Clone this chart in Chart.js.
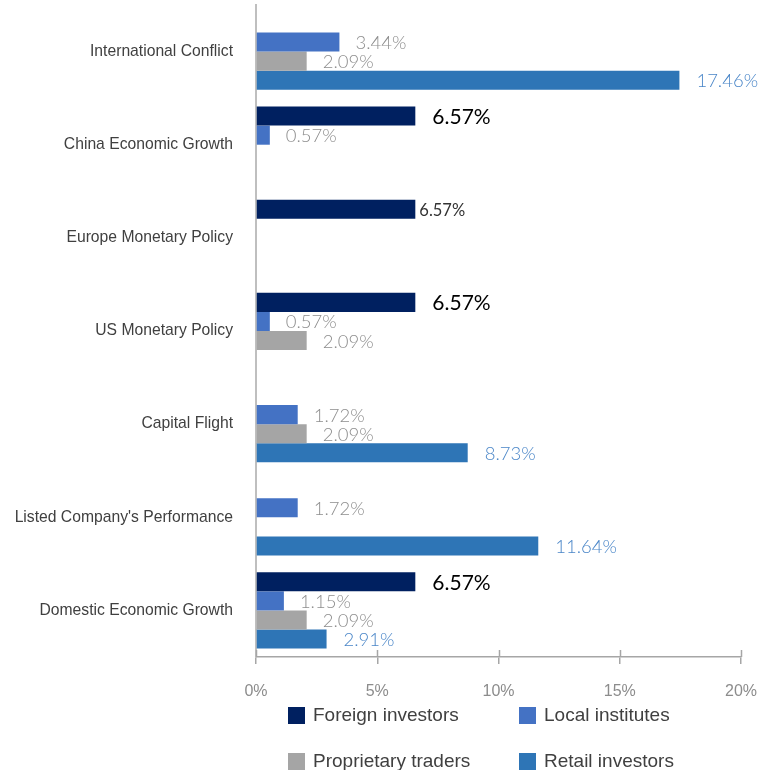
<!DOCTYPE html>
<html>
<head>
<meta charset="utf-8">
<script src="https://cdn.jsdelivr.net/npm/chart.js@4/dist/chart.umd.min.js"></script>
<style>
    html, body { margin: 0; padding: 0; background: #fff; }
    #wrap { width: 770px; height: 770px; }
</style>
</head>
<body>
<div id="wrap"><canvas id="factorChart" width="770" height="770"></canvas></div>
<script>
// --- Data ---
const categories = [
    'International Conflict',
    'China Economic Growth',
    'Europe Monetary Policy',
    'US Monetary Policy',
    'Capital Flight',
    "Listed Company's Performance",
    'Domestic Economic Growth'
];
const foreignInvestors = [null, 6.57, 6.57, 6.57, null, null, 6.57];
const localInstitutes = [3.44, 0.57, null, 0.57, 1.72, 1.72, 1.15];
const proprietaryTraders = [2.09, null, null, 2.09, 2.09, null, 2.09];
const retailInvestors = [17.46, null, null, null, 8.73, 11.64, 2.91];
const xTicks = [0, 5, 10, 15, 20];

// label look for each series (index = dataset index)
const labelStyles = [
    { color: '#000000', font: '400 21px Lato', offset: 17 },
    { color: '#8e8e8e', font: '300 18.5px Lato', offset: 16 },
    { color: '#8e8e8e', font: '300 18.5px Lato', offset: 16 },
    { color: '#4a86c8', font: '300 18.5px Lato', offset: 17 }
];
// the Europe label for foreign investors is drawn smaller and tight to the bar
const labelOverrides = { '0-2': { color: '#333333', font: '400 16.5px Lato', offset: 4 } };

const valueLabels = {
    id: 'valueLabels',
    afterDatasetsDraw(chart) {
        const ctx = chart.ctx;
        ctx.save();
        ctx.textBaseline = 'middle';
        ctx.textAlign = 'left';
        chart.data.datasets.forEach((ds, di) => {
            const meta = chart.getDatasetMeta(di);
            meta.data.forEach((bar, i) => {
                const v = ds.data[i];
                if (v === null || v === undefined) return;
                const st = labelOverrides[di + '-' + i] || labelStyles[di];
                ctx.fillStyle = st.color;
                ctx.font = st.font;
                ctx.fillText(v.toFixed(2) + '%', bar.x + st.offset, bar.y + 1);
            });
        });
        ctx.restore();
    }
};

// upper half of the crossing tick marks on the x axis
const crossTicks = {
    id: 'crossTicks',
    afterDraw(chart) {
        const ctx = chart.ctx;
        const xs = chart.scales.x;
        ctx.save();
        ctx.strokeStyle = '#a6a6a6';
        ctx.lineWidth = 1.5;
        xTicks.forEach(t => {
            const px = Math.round(xs.getPixelForValue(t)) + 0.5;
            ctx.beginPath();
            ctx.moveTo(px, xs.top - 7);
            ctx.lineTo(px, xs.top);
            ctx.stroke();
        });
        ctx.restore();
    }
};

// 2 x 2 legend under the axis
const gridLegend = {
    id: 'gridLegend',
    afterDraw(chart) {
        const ctx = chart.ctx;
        const cols = [288, 519];
        const rows = [715, 761];
        ctx.save();
        ctx.font = '19px "Liberation Sans", Arial, sans-serif';
        ctx.textBaseline = 'middle';
        ctx.textAlign = 'left';
        chart.data.datasets.forEach((ds, i) => {
            const x = cols[i % 2];
            const y = rows[Math.floor(i / 2)];
            ctx.fillStyle = ds.backgroundColor;
            ctx.fillRect(x, y - 8, 17, 17);
            ctx.fillStyle = '#404040';
            ctx.fillText(ds.label, x + 25, y + 1);
        });
        ctx.restore();
    }
};

const ctx = document.getElementById('factorChart').getContext('2d');
const factorChart = new Chart(ctx, {
    type: 'bar',
    data: {
        labels: categories,
        datasets: [
            { label: 'Foreign investors', data: foreignInvestors, backgroundColor: '#002060' },
            { label: 'Local institutes', data: localInstitutes, backgroundColor: '#4472c4' },
            { label: 'Proprietary traders', data: proprietaryTraders, backgroundColor: '#a5a5a5' },
            { label: 'Retail investors', data: retailInvestors, backgroundColor: '#2e75b6' }
        ]
    },
    options: {
        indexAxis: 'y',
        responsive: false,
        animation: false,
        categoryPercentage: 0.82,
        barPercentage: 1.0,
        layout: { padding: { top: 5, right: 29, bottom: 70, left: 0 } },
        plugins: {
            legend: { display: false },
            tooltip: { enabled: false }
        },
        scales: {
            x: {
                min: 0,
                max: 20,
                afterBuildTicks(scale) {
                    scale.ticks = xTicks.map(v => ({ value: v }));
                },
                afterFit(scale) {
                    scale.height = 43;
                    scale.paddingLeft = 0;
                    scale.paddingRight = 0;
                },
                grid: {
                    drawOnChartArea: false,
                    drawTicks: true,
                    tickLength: 7,
                    color: '#a6a6a6',
                    lineWidth: 1.5
                },
                border: { display: true, color: '#a6a6a6', width: 1.5 },
                ticks: {
                    padding: 18,
                    color: '#8c8c8c',
                    font: { family: '"Liberation Sans", Arial, sans-serif', size: 16 },
                    callback: v => v + '%'
                }
            },
            y: {
                afterFit(scale) {
                    scale.width = 256;
                    scale.paddingTop = 0;
                    scale.paddingBottom = 0;
                },
                grid: { display: false, drawTicks: false },
                border: { display: true, color: '#bfbfbf', width: 2 },
                ticks: {
                    padding: 23,
                    color: '#404040',
                    font: { family: '"Liberation Sans", Arial, sans-serif', size: 15.7 }
                }
            }
        }
    },
    plugins: [valueLabels, crossTicks, gridLegend]
});
</script>
</body>
</html>
